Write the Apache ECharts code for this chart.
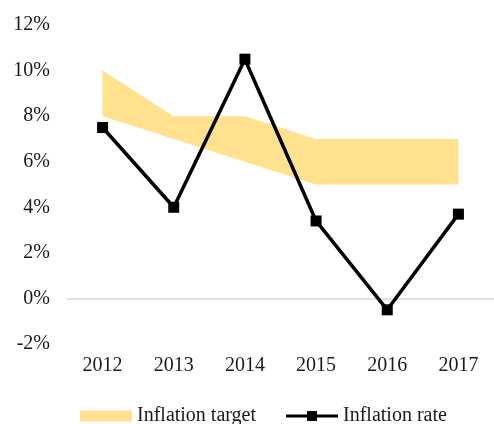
<!DOCTYPE html>
<html>
<head>
<meta charset="utf-8">
<script src="https://cdn.jsdelivr.net/npm/echarts@6/dist/echarts.min.js"></script>
<style>
  html, body { margin: 0; padding: 0; background: #fff; }
  #chart { width: 494px; height: 424px; }
</style>
</head>
<body>
<div id="chart"></div>
<script>
// data
const years = ['2012', '2013', '2014', '2015', '2016', '2017']
const targetLow = [8, 7, 6, 5, 5, 5]
const targetHigh = [10, 8, 8, 7, 7, 7]
const inflationRate = [7.5, 4.0, 10.5, 3.4, -0.5, 3.7]

const fontFamily = '"Liberation Serif", serif'
const textColor = '#1a1a1a'

// line + square marker icon for the legend
const lineMarkerIcon = 'path://M0,3.4L21,3.4L21,0L31,0L31,3.4L52,3.4L52,6.6L31,6.6L31,10L21,10L21,6.6L0,6.6Z'

// band = high - low, stacked on low
const targetBand = targetHigh.map((v, i) => v - targetLow[i])

const chart = echarts.init(document.getElementById('chart'))

chart.setOption({
  animation: false,
  backgroundColor: '#fff',
  textStyle: { fontFamily: fontFamily },
  grid: { left: 67, right: -2, top: 25, bottom: 80 },
  legend: {
    left: 75,
    top: 401,
    itemWidth: 52,
    itemHeight: 11,
    itemGap: 30,
    data: [
      { name: 'Inflation target', icon: 'rect', itemStyle: { color: '#FFE18F' } },
      { name: 'Inflation rate', icon: lineMarkerIcon, itemStyle: { color: '#000' } }
    ],
    textStyle: { fontFamily: fontFamily, fontSize: 20, color: textColor }
  },
  xAxis: {
    type: 'category',
    data: years,
    boundaryGap: true,
    axisLine: { show: false, onZero: false },
    axisTick: { show: false },
    axisLabel: { fontFamily: fontFamily, fontSize: 20, color: textColor, margin: 12 }
  },
  yAxis: {
    type: 'value',
    min: -2,
    max: 12,
    interval: 2,
    axisLine: { show: false },
    axisTick: { show: false },
    splitLine: { show: false },
    axisLabel: {
      fontFamily: fontFamily,
      fontSize: 20,
      color: textColor,
      margin: 17,
      formatter: v => v + '%'
    }
  },
  series: [
    {
      name: 'targetBase',
      type: 'line',
      stack: 'target',
      data: targetLow,
      symbol: 'none',
      lineStyle: { width: 0, opacity: 0 },
      silent: true
    },
    {
      name: 'Inflation target',
      type: 'line',
      stack: 'target',
      data: targetBand,
      symbol: 'none',
      color: '#FFE18F',
      lineStyle: { width: 0, opacity: 0 },
      areaStyle: { color: '#FFE18F', opacity: 1 },
      silent: true
    },
    {
      name: 'Inflation rate',
      type: 'line',
      data: inflationRate,
      color: '#000',
      symbol: 'rect',
      symbolSize: 11,
      lineStyle: { color: '#000', width: 3.5 },
      itemStyle: { color: '#000' },
      z: 5,
      markLine: {
        silent: true,
        symbol: 'none',
        label: { show: false },
        lineStyle: { color: '#d9d9d9', width: 1.5, type: 'solid' },
        data: [{ yAxis: 0 }],
        z: 1
      }
    }
  ]
})
</script>
</body>
</html>
